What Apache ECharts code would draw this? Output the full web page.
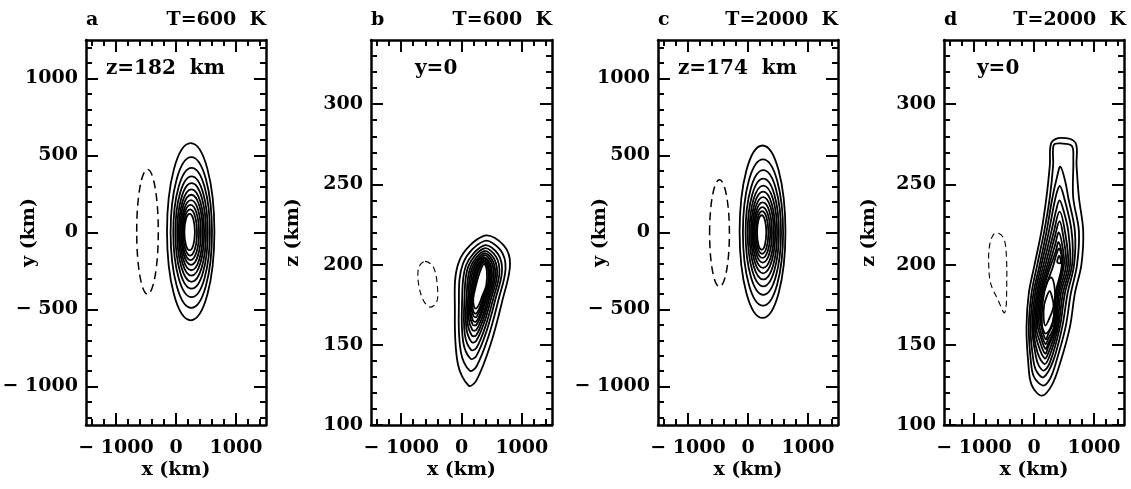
<!DOCTYPE html>
<html><head><meta charset="utf-8">
<script src="https://cdn.jsdelivr.net/npm/echarts@6/dist/echarts.min.js"></script>
<style>html,body{margin:0;padding:0;background:#fff}#c{width:1131px;height:489px}</style>
</head><body><div id="c"></div>
<script>
// ---------------- DATA ----------------
const panelLetters = ['a', 'b', 'c', 'd'];
const panelTemps = ['T=600  K', 'T=600  K', 'T=2000  K', 'T=2000  K'];
const panelCuts = ['z=182  km', 'y=0', 'z=174  km', 'y=0'];
const yNames = ['y (km)', 'z (km)', 'y (km)', 'z (km)'];
const xName = 'x (km)';

const xRange = [-1500, 1500];
const xMajor = [-1000, 0, 1000];
const xMinor = [-1400, -1200, -800, -600, -400, -200, 200, 400, 600, 800, 1200, 1400];
const yRangeAC = [-1250, 1250];
const yMajorAC = [-1000, -500, 0, 500, 1000];
const yMinorAC = [-1200, -1100, -900, -800, -700, -600, -400, -300, -200, -100, 100, 200, 300, 400, 600, 700, 800, 900, 1100, 1200];
const yRangeBD = [100, 340];
const yMajorBD = [100, 150, 200, 250, 300];
const yMinorBD = [110, 120, 130, 140, 160, 170, 180, 190, 210, 220, 230, 240, 260, 270, 280, 290, 310, 320, 330];

// panel a: solid contour ellipses [cx, cy, rx, ry]
const ellA = [
  [245, 5, 395, 575], [255, 0, 345, 490], [260, 0, 305, 420], [260, 0, 270, 365],
  [260, 0, 240, 320], [257, 0, 212, 280], [255, 0, 190, 245], [250, 0, 165, 210],
  [242, 0, 142, 180], [235, 0, 115, 150], [227, 3, 88, 118]
];
const dashA = [[-475, 5, 180, 405]];
// panel c
const ellC = [
  [242, 5, 382, 560], [250, 0, 335, 475], [255, 0, 295, 405], [255, 0, 260, 350],
  [255, 0, 230, 305], [252, 0, 202, 265], [251, 0, 179, 230], [246, 0, 154, 195],
  [240, 0, 130, 165], [235, 0, 105, 138], [228, 0, 77, 112]
];
const dashC = [[-475, -5, 165, 347]];

// panel b: contour polylines [x, z]
const contB = [
  [[380,218],[700,212],[805,200],[680,178],[480,150],[250,128],[120,124.5],[-60,138],[-110,170],[-40,202]],
  [[379,214.7],[647,209],[730,197.5],[615,178.4],[444,154.8],[248,136.5],[136,133.9],[-12,145.8],[-44,173.2],[25,200.7]],
  [[378,212],[605,206.6],[671,195.6],[564,178.7],[415,158.5],[247,143.1],[149,141.3],[27,151.9],[9,175.8],[76,199.6]],
  [[378,210.1],[574,204.8],[627,194.2],[527,178.9],[395,161.3],[246,148],[158,146.8],[55,156.5],[48,177.7],[113,198.9]],
  [[377,208.4],[546,203.2],[588,192.9],[493,179.1],[376,163.8],[245,152.5],[167,151.7],[80,160.6],[83,179.4],[147,198.2]],
  [[377,207],[524,201.9],[556,191.8],[466,179.3],[360,165.8],[244,156],[174,155.7],[101,163.8],[111,180.7],[174,197.6]],
  [[377,205.8],[504,200.8],[529,190.9],[442,179.4],[347,167.5],[243,159.2],[180,159.2],[119,166.7],[135,181.9],[198,197.1]],
  [[376,204.5],[484,199.7],[501,190],[418,179.5],[334,169.3],[242,162.3],[186,162.6],[136,169.6],[160,183.1],[222,196.6]],
  [[376,203.7],[470,198.9],[481,189.3],[401,179.6],[324,170.5],[242,164.5],[190,165.1],[149,171.6],[177,183.9],[239,196.3]],
  [[376,202.6],[454,197.9],[457,188.6],[381,179.8],[313,172],[241,167.2],[195,168.1],[164,174.1],[198,185],[259,195.8]],
  [[375,201.7],[440,197.1],[438,187.9],[364,179.9],[303,173.3],[241,169.4],[199,170.5],[177,176.1],[216,185.8],[276,195.5]],
  [[375,200.5],[420,196],[410,187],[340,180],[290,175],[240,172.5],[205,174],[195,179],[240,187],[300,195]]
];
const dashB = [
  [[-605,202],[-467,198.5],[-401,187],[-411,176.6],[-522,173.5],[-633,177.8],[-716,189],[-705,198.5]]
];

// panel d
const contD = [
  [[290,276],[450,279],[690,276],[709,262],[748,242],[820,221],[790,200],[681,182],[598,161],[447,140],[300,125],[130,118.3],[-40,125],[-98,140],[-125,161],[-87,182],[10,200],[125,221],[208,242],[264,262]],
  [[330,274.6],[450,275.5],[630,274],[655,266],[653,242],[748,221],[718,200],[614,182],[526,161],[375,140],[270,129],[150,124.6],[0,130],[-53,140],[-87,161],[-42,182],[55,200],[172,221],[264,242],[319,262]],
  [[440,261],[520,252],[570,242],[681,221],[668,200],[559,182],[470,161],[320,140],[160,129.8],[50,133],[-9,140],[-59,161],[-9,182],[95,200],[211,221],[308,242],[380,254]],
  [[430,249],[500,242],[626,221],[635,200],[514,182],[431,161],[275,140],[168,134],[80,137],[30,143],[-31,161],[19,182],[125,200],[250,221],[360,242]],
  [[425,240],[490,234],[570,221],[601,200],[481,182],[403,161],[260,143],[175,138],[60,145],[-9,161],[46,182],[158,200],[292,221],[370,234]],
  [[425,233],[514,221],[568,200],[448,182],[381,161],[250,146],[180,141.5],[70,150],[13,161],[68,182],[192,200],[334,221]],
  [[425,227],[490,217],[535,200],[420,182],[364,161],[240,149],[185,144.5],[90,153],[35,161],[91,182],[225,200],[345,217]],
  [[415,220],[480,210],[500,200],[398,182],[347,161],[240,151],[190,147.5],[110,155],[57,163],[113,182],[255,200],[350,212]],
  [[410,214],[470,205],[470,198],[375,182],[331,161],[240,154],[192,150.5],[120,157],[79,165],[135,182],[285,200],[360,208]],
  [[418,210],[465,203],[450,196],[359,182],[314,163],[240,157],[195,153.5],[130,160],[102,167],[157,182],[310,198],[370,206]],
  [[290,192],[345,185],[345,172],[300,163],[198,157],[135,162],[150,178],[220,189]],
  [[262,183.5],[300,180],[325,174],[250,166],[190,162],[160,167],[170,175],[220,181]],
  [[420,205.5],[448,201],[388,201.5]]
];
const dashD = [
  [[-590,219.5],[-500,216],[-460,205],[-455,185],[-470,172],[-500,170],[-600,178],[-720,188],[-755,200],[-740,212],[-670,219]]
];

// ---------------- LAYOUT ----------------
const FONT = 'DejaVu Serif';
const grids = [
  {left: 86, top: 40, width: 180, height: 385},
  {left: 371, top: 40, width: 181, height: 385},
  {left: 658, top: 40, width: 180, height: 385},
  {left: 944, top: 40, width: 180, height: 385}
];
const yNameGaps = [47, 68, 48, 65];
const cutLeft = [106, 415, 678, 977];
const tempRight = [266, 552, 838, 1126];

function fmt(v) { return v < 0 ? '\u2212 ' + (-v) : String(v); }
const txt = {color: '#000', fontFamily: FONT, fontWeight: 'bold', fontSize: 19};
const txtBig = Object.assign({}, txt, {fontSize: 20});

function axis(dim, gi, pos, range, ticks, len, main, name, gap) {
  return {
    type: 'value', gridIndex: gi, position: pos, min: range[0], max: range[1],
    axisLine: {show: len > 8, onZero: false, lineStyle: {color: '#000', width: 2.5}},
    axisTick: {show: true, inside: true, length: len, customValues: ticks, lineStyle: {color: '#000', width: 2}},
    axisLabel: Object.assign({show: main, customValues: ticks, margin: dim === 'x' ? 14 : 8, formatter: fmt, hideOverlap: false}, txt),
    splitLine: {show: false}, minorTick: {show: false},
    name: main ? name : '', nameLocation: 'middle', nameGap: gap || 0, nameMoveOverlap: false,
    nameTextStyle: txt
  };
}

const xAxes = [], yAxes = [], titles = [];
grids.forEach((g, p) => {
  const ac = p % 2 === 0;
  const yr = ac ? yRangeAC : yRangeBD, yMj = ac ? yMajorAC : yMajorBD, yMn = ac ? yMinorAC : yMinorBD;
  xAxes.push(axis('x', p, 'bottom', xRange, xMajor, 12, true, xName, 36));
  xAxes.push(axis('x', p, 'bottom', xRange, xMinor, 6, false));
  xAxes.push(axis('x', p, 'top', xRange, xMajor, 12, false));
  xAxes.push(axis('x', p, 'top', xRange, xMinor, 6, false));
  yAxes.push(axis('y', p, 'left', yr, yMj, 12, true, yNames[p], yNameGaps[p]));
  yAxes.push(axis('y', p, 'left', yr, yMn, 6, false));
  yAxes.push(axis('y', p, 'right', yr, yMj, 12, false));
  yAxes.push(axis('y', p, 'right', yr, yMn, 6, false));
  titles.push({text: panelLetters[p], left: g.left, top: 11, padding: 0, textStyle: txt});
  titles.push({text: panelTemps[p], right: 1131 - tempRight[p], top: 11, padding: 0, textStyle: txt});
  titles.push({text: panelCuts[p], left: cutLeft[p], top: 59, padding: 0, textStyle: txtBig});
});

function ellSeries(p, list, width, dash) {
  return {
    type: 'custom', xAxisIndex: 4 * p, yAxisIndex: 4 * p, silent: true, animation: false,
    data: list,
    renderItem: function (params, api) {
      const c = api.coord([api.value(0), api.value(1)]);
      const s = api.size([api.value(2), api.value(3)], [api.value(0), api.value(1)]);
      return {type: 'ellipse', shape: {cx: c[0], cy: c[1], rx: s[0], ry: s[1]},
        style: {fill: 'none', stroke: '#000', lineWidth: width, lineDash: dash}};
    }
  };
}
function polySeries(p, list, width, dash) {
  return {
    type: 'custom', xAxisIndex: 4 * p, yAxisIndex: 4 * p, silent: true, animation: false,
    data: list.map(c => c[0]),
    renderItem: function (params, api) {
      const pts = list[params.dataIndex].map(q => api.coord(q));
      return {type: 'polygon', shape: {points: pts, smooth: 0.35},
        style: {fill: 'none', stroke: '#000', lineWidth: width, lineDash: dash}};
    }
  };
}

const chart = echarts.init(document.getElementById('c'), null, {renderer: 'canvas'});
chart.setOption({
  backgroundColor: '#fff',
  animation: false,
  title: titles,
  grid: grids.map(g => Object.assign({containLabel: false, outerBoundsMode: 'none'}, g)),
  xAxis: xAxes,
  yAxis: yAxes,
  series: [
    ellSeries(0, ellA, 1.8, null), ellSeries(0, dashA, 1.5, [8, 5]),
    polySeries(1, contB, 1.8, null), polySeries(1, dashB, 1.1, [6, 4]),
    ellSeries(2, ellC, 1.8, null), ellSeries(2, dashC, 1.5, [8, 5]),
    polySeries(3, contD, 1.8, null), polySeries(3, dashD, 1.1, [6, 4])
  ]
});
</script></body></html>
